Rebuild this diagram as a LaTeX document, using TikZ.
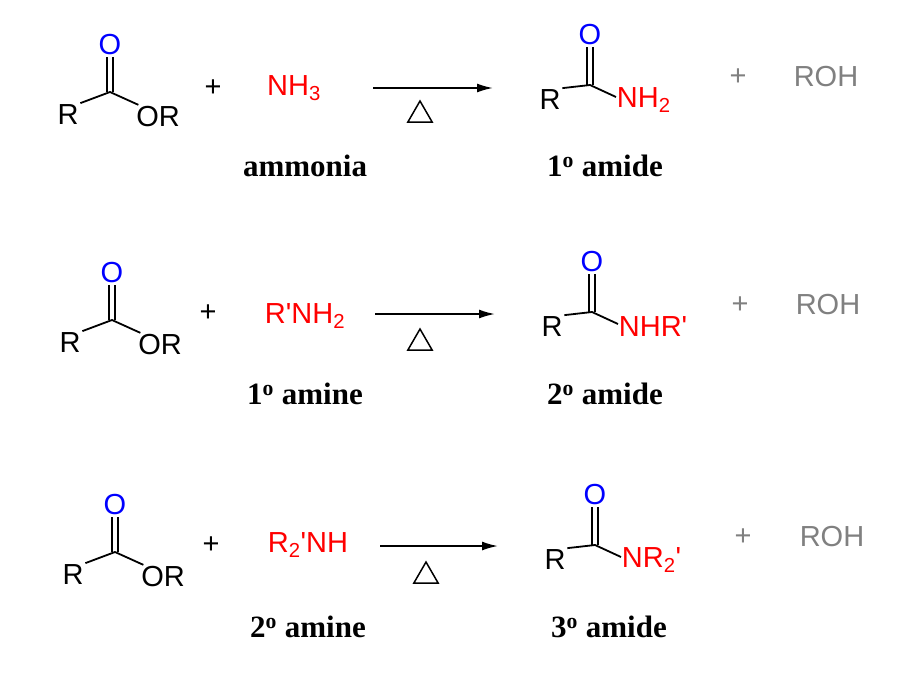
\documentclass[tikz,border=0pt]{standalone}
\usepackage{fontspec}
\usetikzlibrary{arrows.meta,shapes.geometric}
\setmainfont{Liberation Sans}
\newfontfamily\lblfont{Liberation Serif}
\newcommand{\sbs}[1]{\textsubscript{#1}}
\newcommand{\pr}{\textquotesingle}
\begin{document}
\begin{tikzpicture}[x=1pt,y=-1pt,line width=1.8pt,
  chem/.style={font=\fontsize{29}{33}\selectfont,inner sep=1pt},
  red/.style={text={rgb,255:red,255;green,0;blue,0}},
  oxy/.style={chem,text={rgb,255:red,0;green,0;blue,255}},
  grey/.style={chem,text={rgb,255:red,128;green,128;blue,128}},
  delta/.style={draw,regular polygon,regular polygon sides=3,minimum size=28pt,inner sep=0pt,line width=1.5pt,line join=miter},
  lbl/.style={font=\lblfont\bfseries\fontsize{31}{35}\selectfont},
  rxn/.style={-{Latex[length=16pt,width=9pt]},line width=1.8pt},
  ester/.pic={
    \coordinate (-C) at (0,0);
    \node[oxy] (-O) at (0,-47) {O};
    \node[chem] (-R) at (-42,23) {R};
    \node[chem] (-OR) at (48,25) {OR};
    \draw ([xshift=-3pt]-O.south) -- ([xshift=-3pt]-C);
    \draw ([xshift=3pt]-O.south) -- ([xshift=3pt]-C);
    \draw (-R.north east) -- (-C) -- ([xshift=4pt]-OR.north west);
  },
  amide/.pic={
    \coordinate (-C) at (0,0);
    \node[oxy] (-O) at (0,-50) {O};
    \node[chem] (-R) at (-40,15) {R};
    \draw ([xshift=-3pt]-O.south) -- ([xshift=-3pt]-C);
    \draw ([xshift=3pt]-O.south) -- ([xshift=3pt]-C);
    \draw (-R.north east) -- (-C) -- (26,12);
  }]
\useasboundingbox (0,0) rectangle (912,681);
% row 1
\pic (e1) at (110,92) {ester};
\node[chem] (p1) at (213,88) {+};
\node[chem,red] (a1) at (294,88) {NH\sbs{3}};
\coordinate (s1) at (373,88); \coordinate (t1) at (493,88);
\draw[rxn] (s1) -- (t1);
\node[delta] (d1) at (420,115) {};
\pic (m1) at (590,85) {amide};
\node[chem,red,anchor=west] (n1) at (615,100) {NH\sbs{2}};
\node[grey] (q1) at (738,77) {+};
\node[grey] (r1) at (826,77) {ROH};
\node[lbl] (l1) at (305,166) {ammonia};
\node[lbl] (k1) at (605,166) {1\textsuperscript{o} amide};
% row 2
\pic (e2) at (112,320) {ester};
\node[chem] (p2) at (208,313) {+};
\node[chem,red] (a2) at (305,316) {R\pr NH\sbs{2}};
\coordinate (s2) at (375,314); \coordinate (t2) at (495,314);
\draw[rxn] (s2) -- (t2);
\node[delta] (d2) at (420,343) {};
\pic (m2) at (592,312) {amide};
\node[chem,red,anchor=west] (n2) at (617,327) {NHR\pr};
\node[grey] (q2) at (740,305) {+};
\node[grey] (r2) at (828,305) {ROH};
\node[lbl] (l2) at (305,394) {1\textsuperscript{o} amine};
\node[lbl] (k2) at (605,394) {2\textsuperscript{o} amide};
% row 3
\pic (e3) at (115,552) {ester};
\node[chem] (p3) at (211,545) {+};
\node[chem,red] (a3) at (308,545) {R\sbs{2}\pr NH};
\coordinate (s3) at (380,546); \coordinate (t3) at (498,546);
\draw[rxn] (s3) -- (t3);
\node[delta] (d3) at (426,576) {};
\pic (m3) at (595,545) {amide};
\node[chem,red,anchor=west] (n3) at (620,560) {NR\sbs{2}\pr};
\node[grey] (q3) at (743,537) {+};
\node[grey] (r3) at (832,537) {ROH};
\node[lbl] (l3) at (308,627) {2\textsuperscript{o} amine};
\node[lbl] (k3) at (609,627) {3\textsuperscript{o} amide};
\end{tikzpicture}
\end{document}
